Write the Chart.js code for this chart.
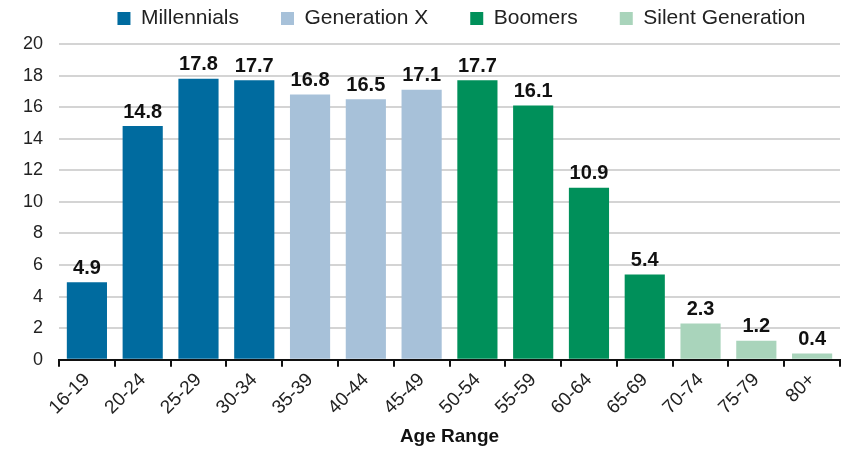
<!DOCTYPE html>
<html>
<head>
<meta charset="utf-8">
<script src="https://cdn.jsdelivr.net/npm/chart.js@4/dist/chart.umd.min.js"></script>
<style>
  html, body { margin: 0; padding: 0; background: #fff; }
  #wrap { width: 850px; height: 452px; }
</style>
</head>
<body>
<div id="wrap"><canvas id="ageChart" width="850" height="452"></canvas></div>
<script>
var ageRanges = ["16-19","20-24","25-29","30-34","35-39","40-44","45-49","50-54","55-59","60-64","65-69","70-74","75-79","80+"];
var millennials = [4.9, 14.8, 17.8, 17.7, null, null, null, null, null, null, null, null, null, null];
var genX        = [null, null, null, null, 16.8, 16.5, 17.1, null, null, null, null, null, null, null];
var boomers     = [null, null, null, null, null, null, null, 17.7, 16.1, 10.9, 5.4, null, null, null];
var silent      = [null, null, null, null, null, null, null, null, null, null, null, 2.3, 1.2, 0.4];
var yTicks = [0, 2, 4, 6, 8, 10, 12, 14, 16, 18, 20];

Chart.defaults.font.family = "'Liberation Sans', Arial, sans-serif";
Chart.defaults.color = "#222";

// values over the bars
var barLabels = {
	id: "barLabels",
	afterDatasetsDraw: function(chart) {
		var ctx = chart.ctx;
		ctx.save();
		ctx.font = "bold 20px 'Liberation Sans', Arial, sans-serif";
		ctx.fillStyle = "#111";
		ctx.textAlign = "center";
		ctx.textBaseline = "bottom";
		chart.data.datasets.forEach(function(ds, i) {
			var meta = chart.getDatasetMeta(i);
			meta.data.forEach(function(bar, j) {
				var v = ds.data[j];
				if (v === null) return;
				ctx.fillText(v.toFixed(1), bar.x, bar.y - 4);
			});
		});
		ctx.restore();
	}
};

// legend sits a bit right of centre and close to the top edge in the original
var legendShift = {
	id: "legendShift",
	afterLayout: function(chart) {
		chart.legend.left += 38;
		chart.legend.right += 38;
		chart.legend.top -= 5;
		chart.legend.bottom -= 5;
	}
};

function makeSet(label, values, colour) {
	return {
		label: label,
		data: values,
		backgroundColor: colour,
		borderWidth: 0,
		barPercentage: 0.72,
		categoryPercentage: 1.0,
		skipNull: true
	};
}

var config = {
	type: "bar",
	data: {
		labels: ageRanges,
		datasets: [
			makeSet("Millennials", millennials, "#006b9f"),
			makeSet("Generation X", genX, "#a7c1d9"),
			makeSet("Boomers", boomers, "#00905a"),
			makeSet("Silent Generation", silent, "#a9d4bb")
		]
	},
	options: {
		responsive: false,
		animation: false,
		layout: { padding: { left: 7, right: 10, top: -29, bottom: 4 } },
		plugins: {
			legend: {
				display: true,
				position: "top",
				labels: {
					boxWidth: 13,
					boxHeight: 13,
					padding: 42,
					color: "#222",
					font: { size: 21 }
				}
			},
			tooltip: { enabled: false }
		},
		scales: {
			x: {
				grid: {
					display: true,
					drawOnChartArea: false,
					drawTicks: true,
					tickLength: 7,
					color: "#111",
					lineWidth: 2
				},
				border: { display: true, color: "#111", width: 2 },
				ticks: {
					minRotation: 45,
					maxRotation: 45,
					color: "#222",
					font: { size: 19 },
					padding: 2
				},
				title: {
					display: true,
					text: "Age Range",
					color: "#111",
					font: { size: 19, weight: "bold" },
					padding: { top: 4, bottom: 0 }
				}
			},
			y: {
				min: 0,
				max: 20,
				afterBuildTicks: function(axis) {
					axis.ticks = yTicks.map(function(v) { return { value: v }; });
				},
				grid: {
					color: "#d4d4d4",
					lineWidth: 2,
					drawTicks: false
				},
				border: { display: false },
				ticks: {
					color: "#222",
					font: { size: 18 },
					padding: 16
				}
			}
		}
	},
	plugins: [barLabels, legendShift]
};

const ageChart = new Chart(document.getElementById("ageChart"), config);
</script>
</body>
</html>
